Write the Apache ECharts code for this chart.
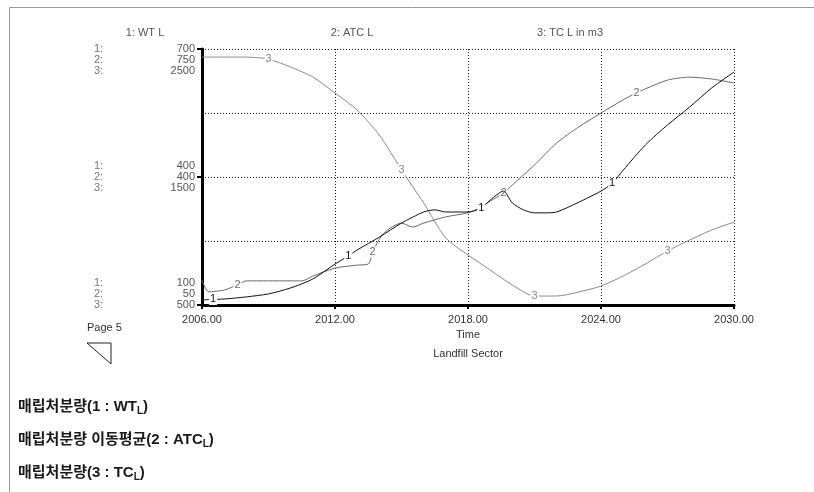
<!DOCTYPE html>
<html><head><meta charset="utf-8">
<script src="https://cdn.jsdelivr.net/npm/echarts@6/dist/echarts.min.js"></script>
<style>html,body{margin:0;padding:0;background:#fff}#c{width:814px;height:492px}</style>
</head><body><div id="c"></div>
<script>
// ---- data ----
const seriesTitles = ['1: WT L', '2: ATC L', '3: TC L in m3'];
const xTicks = [2006, 2012, 2018, 2024, 2030];
const wtTicks = [100, 400, 700];
const atcTicks = [50, 400, 750];
const tcTicks = [500, 1500, 2500];

const wtYears = [2006, 2006.5, 2007, 2008, 2009, 2010, 2011, 2012, 2012.6, 2013, 2014, 2015, 2016, 2016.5, 2017, 2018, 2018.6, 2019, 2019.6, 2020, 2020.5, 2021, 2021.5, 2022, 2023, 2024, 2024.5, 2025, 2026, 2027, 2028, 2029, 2030];
const wtValues = [112, 113, 114, 119, 126, 140, 161, 196, 215, 229, 259, 292, 318, 323, 318, 318, 327, 346, 367, 339, 323, 316, 316, 318, 341, 367, 385, 416, 475, 522, 564, 609, 646];

const atcYears = [2006, 2006.3, 2007, 2007.6, 2008, 2009, 2010, 2010.5, 2011, 2012, 2013, 2013.5, 2013.7, 2014.1, 2014.5, 2015, 2015.5, 2016, 2017, 2018, 2018.5, 2019, 2019.6, 2020, 2021, 2022, 2023, 2024, 2025, 2025.6, 2026, 2027, 2028, 2029, 2030];
const atcValues = [118, 86, 91, 105, 116, 116, 116, 116, 129, 151, 159, 162, 195, 239, 261, 274, 263, 274, 291, 302, 315, 334, 356, 378, 433, 493, 537, 575, 611, 630, 641, 665, 673, 668, 657];

const tcYears = [2006, 2007, 2008, 2008.5, 2009, 2010, 2011, 2012, 2013, 2014, 2015, 2016, 2017, 2018, 2019, 2020, 2021, 2022, 2023, 2024, 2025, 2026, 2027, 2028, 2029, 2030];
const tcValues = [2437, 2437, 2437, 2432, 2422, 2359, 2281, 2156, 2023, 1828, 1555, 1297, 1023, 891, 773, 656, 570, 570, 602, 648, 727, 820, 922, 1008, 1086, 1148];

const legendTexts = ['매립처분량(1 : WT', '매립처분량 이동평균(2 : ATC', '매립처분량(3 : TC'];

// marker label positions (indices into the series arrays)
const wtMarks = [1, 8, 16, 26];
const atcMarks = [3, 12, 22, 29];
const tcMarks = [4, 10, 16, 22];

const colors = ['#111', '#6a6a6a', '#8a8a8a'];

function buildData(xs, vs, marks, tag, color) {
  return xs.map((x, i) => {
    const p = [x, vs[i]];
    if (marks.indexOf(i) >= 0) {
      return {
        value: p, symbol: 'rect', symbolSize: [8, 11],
        itemStyle: { color: '#fff', borderWidth: 0 },
        label: { show: true, position: 'inside', formatter: tag, color: color, fontSize: 11, fontFamily: 'Liberation Sans, Arial, sans-serif' }
      };
    }
    return p;
  });
}

const rich = {};
[-22, -11, 0, 11, 22].forEach(s => {
  const n = s + 22;
  const pad = s >= 0 ? [2 * s, 0, 0, 0] : [0, 0, -2 * s, 0];
  rich['p' + n] = { width: 70, align: 'left', color: '#777', fontSize: 11, padding: pad, fontFamily: 'Liberation Sans, Arial, sans-serif' };
  rich['v' + n] = { width: 31, align: 'right', color: '#555', fontSize: 11, padding: pad, fontFamily: 'Liberation Sans, Arial, sans-serif' };
});

function yAxisFor(k, ticks, showLine) {
  const min = ticks[0], max = ticks[ticks.length - 1];
  return {
    type: 'value', min: min, max: max, position: 'left', offset: 0,
    splitLine: { show: false },
    axisLine: { show: showLine, lineStyle: { color: '#000', width: 3 } },
    axisTick: { show: showLine, customValues: ticks, length: 5, lineStyle: { color: '#000', width: 2 } },
    axisLabel: {
      customValues: ticks, margin: 7,
      formatter: v => {
        const pos = v === max ? 0 : (v === min ? 2 : 1);
        const n = (k - pos) * 11 + 22;
        return '{p' + n + '|' + (k + 1) + ':}{v' + n + '|' + v + '}';
      },
      rich: rich
    }
  };
}

const chart = echarts.init(document.getElementById('c'), null, { renderer: 'canvas' });
const font = 'Liberation Sans, Arial, sans-serif';
const lineCommon = { symbol: 'circle', symbolSize: 0, smooth: 0.25, silent: true, emphasis: { disabled: true } };
chart.setOption({
  animation: false,
  backgroundColor: '#fff',
  grid: { left: 202, right: 80, top: 49, bottom: 187, containLabel: false },
  xAxis: [
    {
      type: 'value', min: 2006, max: 2030, position: 'bottom',
      axisLine: { lineStyle: { color: '#000', width: 3 } },
      axisTick: { customValues: xTicks, length: 4, lineStyle: { color: '#000', width: 2 } },
      axisLabel: { customValues: xTicks, formatter: v => v.toFixed(2), margin: 9, color: '#333', fontSize: 11, fontFamily: font },
      splitLine: { show: false },
      name: 'Time', nameLocation: 'middle', nameGap: 23,
      nameTextStyle: { fontSize: 11, color: '#333', fontFamily: font }
    },
    {
      type: 'value', min: 0, max: 4, interval: 1, position: 'top',
      axisLine: { show: false }, axisTick: { show: false }, axisLabel: { show: false },
      splitLine: { show: true, lineStyle: { type: [1, 2], color: '#222', width: 1 } }
    }
  ],
  yAxis: [
    yAxisFor(0, wtTicks, true),
    yAxisFor(1, atcTicks, false),
    yAxisFor(2, tcTicks, false),
    {
      type: 'value', min: 0, max: 4, interval: 1, position: 'right',
      axisLine: { show: false }, axisTick: { show: false }, axisLabel: { show: false },
      splitLine: { show: true, lineStyle: { type: [1, 2], color: '#222', width: 1 } }
    }
  ],
  series: [
    Object.assign({ name: seriesTitles[0], type: 'line', xAxisIndex: 0, yAxisIndex: 0, data: buildData(wtYears, wtValues, wtMarks, '1', colors[0]),
      lineStyle: { color: colors[0], width: 1 }, z: 5 }, lineCommon),
    Object.assign({ name: seriesTitles[1], type: 'line', xAxisIndex: 0, yAxisIndex: 1, data: buildData(atcYears, atcValues, atcMarks, '2', colors[1]),
      lineStyle: { color: colors[1], width: 1 }, z: 4 }, lineCommon),
    Object.assign({ name: seriesTitles[2], type: 'line', xAxisIndex: 0, yAxisIndex: 2, data: buildData(tcYears, tcValues, tcMarks, '3', colors[2]),
      lineStyle: { color: colors[2], width: 1 }, z: 3 }, lineCommon)
  ],
  graphic: [
    { type: 'line', shape: { x1: 9.5, y1: 7.5, x2: 814, y2: 7.5 }, style: { stroke: '#999', lineWidth: 1 }, silent: true },
    { type: 'line', shape: { x1: 9.5, y1: 7.5, x2: 9.5, y2: 492 }, style: { stroke: '#999', lineWidth: 1 }, silent: true },
    { type: 'text', x: 145, y: 33, style: { text: seriesTitles[0], fill: '#555', font: '11px ' + font, align: 'center', verticalAlign: 'middle' } },
    { type: 'text', x: 352, y: 33, style: { text: seriesTitles[1], fill: '#555', font: '11px ' + font, align: 'center', verticalAlign: 'middle' } },
    { type: 'text', x: 570, y: 33, style: { text: seriesTitles[2], fill: '#555', font: '11px ' + font, align: 'center', verticalAlign: 'middle' } },
    { type: 'text', x: 468, y: 354, style: { text: 'Landfill Sector', fill: '#333', font: '11px ' + font, align: 'center', verticalAlign: 'middle' } },
    { type: 'text', x: 87, y: 328, style: { text: 'Page 5', fill: '#333', font: '11px ' + font, align: 'left', verticalAlign: 'middle' } },
    { type: 'polygon', shape: { points: [[87, 343], [111, 343], [111, 364]] }, style: { stroke: '#222', fill: 'none', lineWidth: 1 } },
    ...legendTexts.map((t, i) => ({
      type: 'text', x: 18, y: 407 + i * 33,
      style: {
        text: '{a|' + t + '}{s|L}{a|)}',
        verticalAlign: 'middle', align: 'left',
        rich: {
          a: { fontSize: 15, fontWeight: 'bold', fill: '#1a1a1a', fontFamily: 'Liberation Sans, Noto Sans CJK KR, sans-serif' },
          s: { fontSize: 10, fontWeight: 'bold', fill: '#1a1a1a', fontFamily: 'Liberation Sans, Noto Sans CJK KR, sans-serif', padding: [9, 0, 0, 0] }
        }
      }
    }))
  ]
});
</script>
</body></html>
